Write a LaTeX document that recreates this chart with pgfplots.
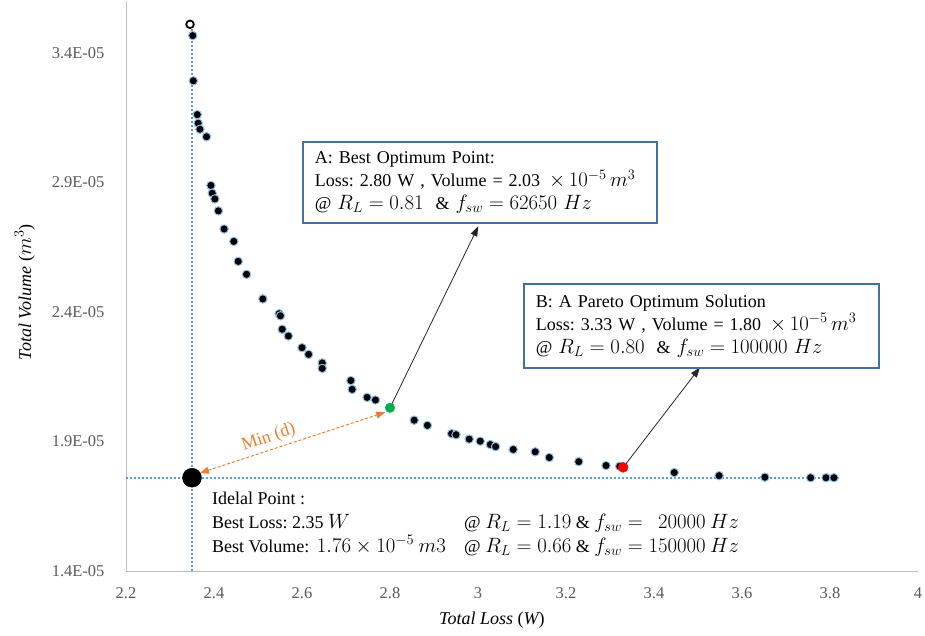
\documentclass[border=0pt]{standalone}
\usepackage{pgfplots}
\pgfplotsset{compat=1.18}
\usepackage{fontspec}
\setmainfont{Liberation Serif}
\usetikzlibrary{arrows.meta}
% larger math next to the 18pt annotation text
\DeclareMathSizes{18}{19.5}{14}{10.5}
\frenchspacing

\definecolor{dotblue}{HTML}{5B9BD5}
\definecolor{boxblue}{HTML}{41719C}
\definecolor{glow}{HTML}{8FBCE6}
\definecolor{bestgreen}{HTML}{00B050}
\definecolor{distorange}{HTML}{ED7D31}
\definecolor{ticktext}{HTML}{595959}
\definecolor{axisgray}{HTML}{BFBFBF}

% Pareto front: total loss (W) vs total volume (x 1e-5 m^3)
\pgfplotstableread{
loss   vol
2.3516 3.4665
2.353  3.292
2.362  3.1615
2.364  3.128
2.368  3.105
2.383  3.076
2.393  2.888
2.396  2.858
2.402  2.836
2.410  2.790
2.423  2.720
2.445  2.672
2.455  2.595
2.474  2.545
2.511  2.450
2.548  2.393
2.551  2.385
2.555  2.333
2.569  2.307
2.600  2.262
2.615  2.236
2.646  2.203
2.646  2.182
2.711  2.135
2.714  2.101
2.748  2.070
2.767  2.060
2.855  1.982
2.885  1.962
2.940  1.930
2.950  1.926
2.980  1.909
3.005  1.901
3.028  1.888
3.040  1.880
3.080  1.869
3.130  1.860
3.162  1.838
3.229  1.822
3.291  1.807
3.322  1.804
3.446  1.780
3.548  1.768
3.652  1.762
3.756  1.760
3.791  1.760
3.809  1.760
}\paretofront

\begin{document}
\begin{tikzpicture}[x=1pt,y=1pt]
\path[use as bounding box] (0,0) rectangle (925,636);
\begin{axis}[
  at={(126pt,65pt)}, anchor=south west,
  scale only axis, width=792pt, height=570pt,
  xmin=2.2, xmax=4, ymin=1.4, ymax=3.6,
  axis x line*=bottom, axis y line*=left,
  axis line style={axisgray, line width=0.9pt},
  major tick length=0pt,
  /pgf/number format/assume math mode=true,
  xtick={2.2,2.4,2.6,2.8,3.0,3.2,3.4,3.6,3.8,4.0},
  xticklabels={2.2,2.4,2.6,2.8,3,3.2,3.4,3.6,3.8,4},
  ytick={1.4,1.9,2.4,2.9,3.4},
  yticklabels={1.4E-05,1.9E-05,2.4E-05,2.9E-05,3.4E-05},
  tick label style={font=\fontsize{16.5}{18}\selectfont, text=ticktext},
  xticklabel style={anchor=center, yshift=-22pt},
  yticklabel style={anchor=east, xshift=-18pt},
  xlabel={\itshape Total Loss \upshape(\itshape W\upshape)},
  ylabel={\itshape Total Volume \upshape($m^3$)},
  label style={font=\fontsize{18}{20}\selectfont},
  xlabel style={at={(axis description cs:0.462,-0.086)}, anchor=center},
  ylabel style={at={(axis description cs:-0.128,0.489)}, anchor=center, rotate=0},
  clip=false,
]
% reference lines through the ideal point
\addplot[dotblue, line width=2.2pt, dash pattern=on 2pt off 2pt]
  coordinates {(2.35,1.4) (2.35,3.53)};
\addplot[dotblue, line width=2.2pt, dash pattern=on 2pt off 2pt]
  coordinates {(2.2,1.76) (3.82,1.76)};

% front points
\addplot[only marks, mark=*, mark size=4.2pt,
  mark options={fill=black, draw=glow, line width=1pt}]
  table[x=loss, y=vol] {\paretofront};
\addplot[only marks, mark=*, mark size=3.8pt,
  mark options={fill=white, draw=black, line width=1.8pt}]
  coordinates {(2.3455,3.510)};

% ideal, best and Pareto points
\addplot[only marks, mark=*, mark size=9.5pt, mark options={fill=black, draw=black}]
  coordinates {(2.35,1.76)};
\addplot[only marks, mark=*, mark size=4.8pt, mark options={fill=bestgreen, draw=bestgreen}]
  coordinates {(2.80,2.03)};
\addplot[only marks, mark=*, mark size=5pt, mark options={fill=red, draw=red}]
  coordinates {(3.33,1.80)};

% minimum distance
\draw[distorange, line width=1pt, dash pattern=on 3pt off 2pt,
  {Triangle[length=9pt,width=7pt]}-{Triangle[length=9pt,width=7pt]}]
  (axis cs:2.368,1.778) -- (axis cs:2.789,2.0127);
\node[distorange, rotate=19, anchor=south, inner sep=1pt,
  font=\fontsize{18}{20}\selectfont]
  at (axis cs:2.531,1.880) {Min (d)};

% callouts
\draw[black!85, line width=0.8pt, -{Triangle[length=10pt,width=7pt]}, shorten <=4pt]
  (axis cs:2.80,2.03) -- (axis cs:3.0007,2.7308);
\draw[black!85, line width=0.8pt, -{Triangle[length=10pt,width=7pt]}, shorten <=4pt]
  (axis cs:3.33,1.80) -- (axis cs:3.5045,2.1858);

\node[draw=boxblue, line width=1.8pt, fill=white, anchor=north west,
  text width=330pt, inner xsep=12pt, inner ysep=6pt, minimum height=81pt,
  align=left, font=\fontsize{18}{23}\selectfont]
  at (axis cs:2.6,3.0577)
  {A: Best Optimum Point:\\
   Loss: 2.80 W , Volume = 2.03 \,$\times\,10^{-5}\,m^3$\\
   @ $R_L = 0.81$ \ \& $f_{sw} = 62650\ Hz$};

\node[draw=boxblue, line width=1.8pt, fill=white, anchor=north west,
  text width=331pt, inner xsep=12pt, inner ysep=6pt, minimum height=84pt,
  align=left, font=\fontsize{18}{23}\selectfont]
  at (axis cs:3.1023,2.5115)
  {B: A Pareto Optimum Solution\\
   Loss: 3.33 W , Volume = 1.80 \,$\times\,10^{-5}\,m^3$\\
   @ $R_L = 0.80$ \ \& $f_{sw} = 100000\ Hz$};

\node[anchor=base west, inner sep=0pt, font=\fontsize{18}{24}\selectfont]
  at (axis cs:2.3955,1.6577)
  {\begin{tabular}[t]{@{}p{252pt}@{}l@{}}
   Idelal Point : & \\
   Best Loss: 2.35 $W$ & @ $R_L = 1.19$ \& $f_{sw} = \phantom{1}20000\ Hz$\\
   Best Volume: \,$1.76\times10^{-5}\ m3$ & @ $R_L = 0.66$ \& $f_{sw} = 150000\ Hz$
   \end{tabular}};
\end{axis}
\end{tikzpicture}
\end{document}
